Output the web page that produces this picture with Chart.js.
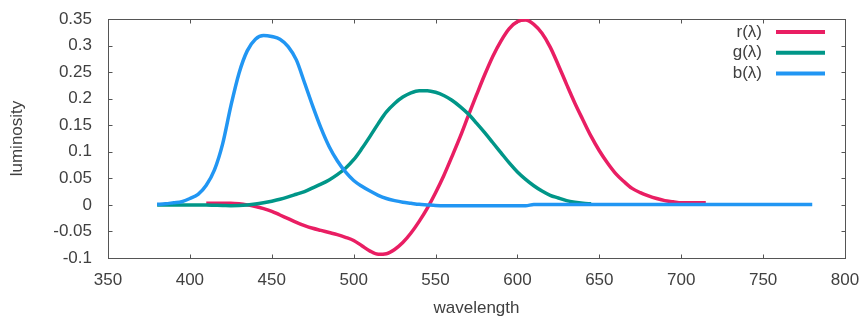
<!DOCTYPE html>
<html>
<head>
<meta charset="utf-8">
<script src="https://cdn.jsdelivr.net/npm/chart.js@4/dist/chart.umd.min.js"></script>
<style>
  html, body { margin: 0; padding: 0; background: #fff; }
  #caixa { width: 862px; height: 320px; }
</style>
</head>
<body>
<div id="caixa"><canvas id="grafico"></canvas></div>
<script>

/* dados */

var comprimentos = [380, 385, 390, 395, 400, 405, 410, 415, 420, 425, 430, 435, 440, 445, 450, 455, 460, 465, 470, 475,
  480, 485, 490, 495, 500, 505, 510, 515, 520, 525, 530, 535, 540, 545, 550, 555, 560, 565, 570, 575,
  580, 585, 590, 595, 600, 605, 610, 615, 620, 625, 630, 635, 640, 645, 650, 655, 660, 665, 670, 675,
  680, 685, 690, 695, 700, 705, 710, 715, 750, 780];

var valores_r = [null, null, null, null, null, null, 0.003, 0.003, 0.003, 0.003, 0.002, 0.000, -0.003, -0.007, -0.012, -0.019, -0.026, -0.033, -0.039, -0.044,
  -0.048, -0.052, -0.056, -0.061, -0.067, -0.077, -0.087, -0.093, -0.092, -0.084, -0.071, -0.053, -0.031, -0.006, 0.023, 0.055, 0.091, 0.128, 0.168, 0.207,
  0.245, 0.280, 0.309, 0.332, 0.345, 0.348, 0.340, 0.323, 0.297, 0.263, 0.227, 0.192, 0.160, 0.129, 0.102, 0.079, 0.059, 0.044, 0.031, 0.023,
  0.017, 0.012, 0.008, 0.006, 0.004, 0.004, 0.004, 0.004, null, null];

var valores_g = [0, 0, 0, 0, -0.0002, -0.0002, -0.0004, -0.0007, -0.001, -0.0014, -0.0012, -0.0002, 0.0015, 0.004, 0.007, 0.0105, 0.015, 0.020, 0.025, 0.032,
  0.039, 0.047, 0.057, 0.069, 0.085, 0.106, 0.129, 0.153, 0.175, 0.191, 0.203, 0.211, 0.215, 0.215, 0.212, 0.206, 0.197, 0.185, 0.171, 0.154,
  0.136, 0.117, 0.098, 0.079, 0.062, 0.048, 0.036, 0.026, 0.018, 0.013, 0.008, 0.005, 0.003, 0.002, null, null, null, null, null, null,
  null, null, null, null, null, null, null, null, null, null];

var valores_b = [0.001, 0.002, 0.004, 0.006, 0.012, 0.020, 0.037, 0.066, 0.115, 0.186, 0.248, 0.290, 0.312, 0.319, 0.317, 0.312, 0.298, 0.273, 0.230, 0.186,
  0.145, 0.110, 0.083, 0.062, 0.046, 0.035, 0.026, 0.018, 0.012, 0.008, 0.005, 0.003, 0.001, 0.000, -0.001, -0.0015, -0.0015, -0.0015, -0.0015, -0.0015,
  -0.0015, -0.0015, -0.0015, -0.0015, -0.0015, -0.0015, 0.0005, 0.0005, 0.0005, 0.0005, 0.0005, 0.0005, 0.0005, 0.0005, 0.0005, 0.0005, 0.0005, 0.0005, 0.0005, 0.0005,
  0.0005, 0.0005, 0.0005, 0.0005, 0.0005, 0.0005, 0.0005, 0.0005, 0.0005, 0.0005];

var nomes_series = ['r(λ)', 'g(λ)', 'b(λ)'];
var cores = ['#e91e63', '#009688', '#2196f3'];

var ticks_x = [350, 400, 450, 500, 550, 600, 650, 700, 750, 800];
var ticks_y = [-0.1, -0.05, 0, 0.05, 0.1, 0.15, 0.2, 0.25, 0.3, 0.35];
var rotulos_y = ['-0.1', '-0.05', '0', '0.05', '0.1', '0.15', '0.2', '0.25', '0.3', '0.35'];

function pontos(valores) {
  return comprimentos.map(function (x, i) { return { x: x, y: valores[i] }; });
}

var cor_texto = '#404040';
var fonte = "'Liberation Sans', Arial, sans-serif";

Chart.defaults.font.family = fonte;
Chart.defaults.font.size = 17;
Chart.defaults.color = cor_texto;

// moldura com os tracinhos para dentro (estilo gnuplot)
var moldura = {
  id: 'moldura',
  beforeDatasetsDraw(chart) {
    var ctx = chart.ctx;
    var a = chart.chartArea;
    var sx = chart.scales.x, sy = chart.scales.y;
    var l = Math.round(a.left) + 0.5, r = Math.round(a.right) + 0.5;
    var t = Math.round(a.top) + 0.5, b = Math.round(a.bottom) + 0.5;
    ctx.save();
    ctx.strokeStyle = '#555';
    ctx.lineWidth = 1;
    ctx.strokeRect(l, t, r - l, b - t);
    ctx.beginPath();
    ticks_x.forEach(function (v) {
      var px = Math.round(sx.getPixelForValue(v)) + 0.5;
      ctx.moveTo(px, b); ctx.lineTo(px, b - 4);
      ctx.moveTo(px, t); ctx.lineTo(px, t + 4);
    });
    ticks_y.forEach(function (v) {
      var py = Math.round(sy.getPixelForValue(v)) + 0.5;
      ctx.moveTo(l, py); ctx.lineTo(l + 4, py);
      ctx.moveTo(r, py); ctx.lineTo(r - 4, py);
    });
    ctx.stroke();
    ctx.restore();
  },
  afterDraw(chart) {
    // legenda: texto a direita, amostra da linha depois
    var ctx = chart.ctx;
    ctx.save();
    ctx.font = '17px ' + fonte;
    ctx.textAlign = 'right';
    ctx.textBaseline = 'middle';
    chart.data.datasets.forEach(function (ds, i) {
      var y = 32 + i * 20.7;
      ctx.fillStyle = cor_texto;
      ctx.fillText(ds.label, 762, y);
      ctx.strokeStyle = ds.borderColor;
      ctx.lineWidth = 4;
      ctx.beginPath();
      ctx.moveTo(776, y); ctx.lineTo(825, y);
      ctx.stroke();
    });
    ctx.restore();
  }
};

var ctx = document.getElementById('grafico').getContext('2d');
var grafico = new Chart(ctx, {
  type: 'line',
  data: {
    datasets: [
      { label: nomes_series[0], data: pontos(valores_r), borderColor: cores[0], order: 2 },
      { label: nomes_series[1], data: pontos(valores_g), borderColor: cores[1], order: 1 },
      { label: nomes_series[2], data: pontos(valores_b), borderColor: cores[2], order: 0 }
    ]
  },
  options: {
    responsive: true,
    maintainAspectRatio: false,
    animation: false,
    parsing: false,
    layout: { padding: { top: 19, right: 17, left: 0, bottom: 0 } },
    elements: {
      point: { radius: 0 },
      line: { borderWidth: 3.5, tension: 0.4, cubicInterpolationMode: 'monotone', fill: false }
    },
    plugins: { legend: { display: false }, tooltip: { enabled: false } },
    scales: {
      x: {
        type: 'linear', min: 350, max: 800,
        afterBuildTicks: function (s) { s.ticks = ticks_x.map(function (v) { return { value: v }; }); },
        afterFit: function (s) { s.height = 62; s.paddingLeft = 0; s.paddingRight = 0; },
        grid: { display: false, drawTicks: false },
        border: { display: false },
        ticks: { padding: 12, maxRotation: 0, autoSkip: false },
        title: { display: true, text: 'wavelength', padding: { top: 0, bottom: 1.5 } }
      },
      y: {
        type: 'linear', min: -0.1, max: 0.35,
        afterBuildTicks: function (s) { s.ticks = ticks_y.map(function (v) { return { value: v }; }); },
        afterFit: function (s) { s.width = 108; s.paddingTop = 0; s.paddingBottom = 0; },
        grid: { display: false, drawTicks: false },
        border: { display: false },
        ticks: { padding: 16, autoSkip: false, callback: function (v, i) { return rotulos_y[i]; } },
        title: { display: true, text: 'luminosity', padding: { top: 7, bottom: 0 } }
      }
    }
  },
  plugins: [moldura]
});
</script>
</body>
</html>
